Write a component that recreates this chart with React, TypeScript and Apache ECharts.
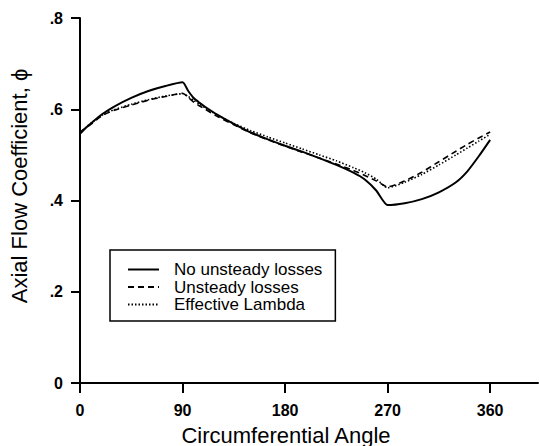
import React, { useEffect, useRef } from "react";
import * as echarts from "echarts";

const angles = [0, 5, 10, 20, 30, 45, 60, 75, 90, 95, 100, 105, 110, 120, 135, 150, 165, 180, 195, 210, 225, 240, 250, 260, 270, 285, 300, 315, 330, 340, 350, 360];
const noUnsteady = [0.546, 0.559, 0.570, 0.590, 0.606, 0.625, 0.640, 0.651, 0.659, 0.640, 0.624, 0.614, 0.605, 0.589, 0.568, 0.549, 0.534, 0.520, 0.507, 0.493, 0.478, 0.461, 0.446, 0.422, 0.390, 0.394, 0.403, 0.418, 0.440, 0.464, 0.497, 0.533];
const unsteady = [0.550, 0.559, 0.568, 0.587, 0.598, 0.609, 0.620, 0.628, 0.635, 0.626, 0.615, 0.607, 0.600, 0.585, 0.566, 0.548, 0.533, 0.519, 0.506, 0.493, 0.480, 0.466, 0.455, 0.443, 0.430, 0.443, 0.462, 0.485, 0.508, 0.523, 0.537, 0.550];
const effLambda = [0.548, 0.560, 0.570, 0.588, 0.599, 0.611, 0.621, 0.629, 0.634, 0.628, 0.619, 0.611, 0.603, 0.588, 0.569, 0.553, 0.539, 0.526, 0.513, 0.500, 0.487, 0.472, 0.461, 0.447, 0.428, 0.440, 0.457, 0.478, 0.500, 0.515, 0.530, 0.545];
const seriesNames = ["No unsteady losses", "Unsteady losses", "Effective Lambda"];
const xTicks = [0, 90, 180, 270, 360];
const xTitle = "Circumferential Angle";
const yTitle = "Axial Flow Coefficient, ϕ";

const FONT = '"Liberation Sans", Arial, Helvetica, sans-serif';

export default function App() {
  const ref = useRef<HTMLDivElement>(null);
  useEffect(() => {
    if (!ref.current) return;
    const chart = echarts.init(ref.current, undefined, { renderer: "svg" });
    const pair = (vals: number[]) => angles.map((a, i) => [a, vals[i]]);
    const styles = [
      { type: "solid" as const, width: 2 },
      { type: [6, 4] as any, width: 1.6 },
      { type: [1.5, 2] as any, width: 1.6 },
    ];
    const datas = [noUnsteady, unsteady, effLambda];
    chart.setOption({
      animation: false,
      backgroundColor: "#fff",
      grid: { left: 80, top: 18, right: 1, bottom: 63, containLabel: false },
      xAxis: {
        type: "value",
        min: 0,
        max: 402,
        splitLine: { show: false },
        axisLine: { show: true, onZero: false, lineStyle: { color: "#000", width: 2 } },
        axisTick: { show: true, length: 10, customValues: xTicks, lineStyle: { color: "#000", width: 2 } },
        axisLabel: {
          customValues: xTicks,
          margin: 19,
          fontSize: 16,
          fontWeight: "bold",
          fontFamily: FONT,
          color: "#000",
        },
      },
      yAxis: {
        type: "value",
        min: 0,
        max: 0.8,
        interval: 0.2,
        splitLine: { show: false },
        axisLine: { show: true, lineStyle: { color: "#000", width: 2 } },
        axisTick: { show: true, length: 9, lineStyle: { color: "#000", width: 2 } },
        axisLabel: {
          margin: 17,
          fontSize: 16,
          fontWeight: "bold",
          fontFamily: FONT,
          color: "#000",
          formatter: (v: number) => (Math.abs(v) < 1e-9 ? "0" : v.toFixed(1).replace(/^0\./, ".")),
        },
      },
      legend: {
        orient: "vertical",
        left: 110,
        top: 250,
        borderColor: "#000",
        borderWidth: 1.5,
        padding: [11, 13, 8, 17],
        itemWidth: 31,
        itemHeight: 12,
        itemGap: 0.5,
        itemStyle: { opacity: 0 },
        textStyle: { fontSize: 17, fontFamily: FONT, color: "#000", padding: [0, 0, 0, 10] },
        data: seriesNames,
      },
      series: seriesNames.map((name, i) => ({
        name,
        type: "line",
        data: pair(datas[i]),
        symbol: "none",
        smooth: 0.2,
        lineStyle: { color: "#000", width: styles[i].width, type: styles[i].type },
        itemStyle: { color: "#000" },
      })),
      graphic: [
        {
          type: "text",
          x: 286,
          y: 435,
          style: { text: xTitle, font: `22px ${FONT}`, fill: "#000", align: "center", verticalAlign: "middle" },
        },
        {
          type: "text",
          x: 19,
          y: 186,
          rotation: Math.PI / 2,
          style: { text: yTitle, font: `22px ${FONT}`, fill: "#000", align: "center", verticalAlign: "middle" },
        },
      ],
    });
    return () => chart.dispose();
  }, []);
  return <div ref={ref} style={{ position: "fixed", left: 0, top: 0, width: 539, height: 446 }} />;
}
